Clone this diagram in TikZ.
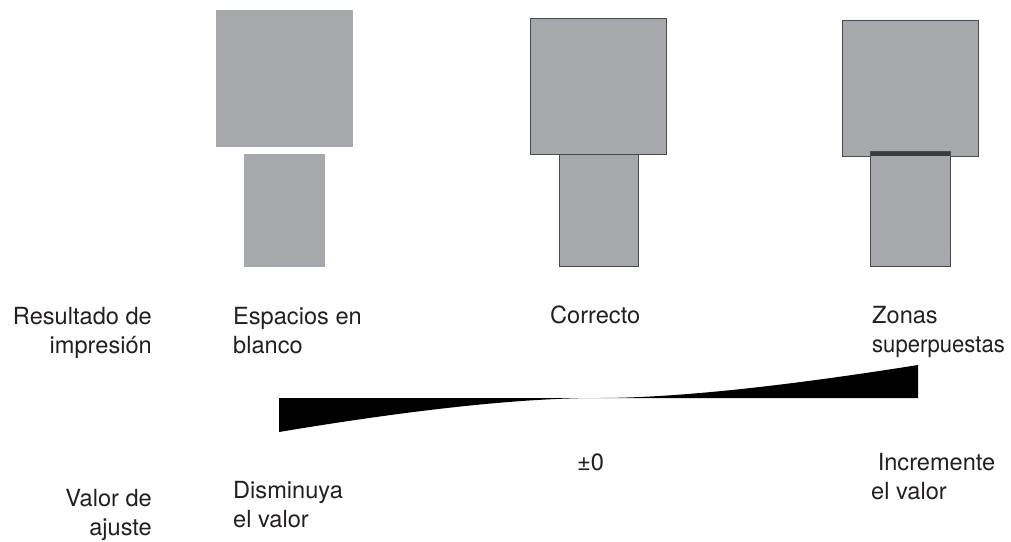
\documentclass[tikz,border=0pt]{standalone}
\usepackage{fontspec}
\usepackage{graphicx}
\setmainfont{TeX Gyre Heros}
\begin{document}
\begin{tikzpicture}[x=1pt,y=-1pt,
  paper/.style={fill=sheet},
  paperedge/.style={fill=sheet,draw=edgegray,line width=1pt},
  lbl/.style={inner sep=0pt,font=\fontsize{23.6}{29}\selectfont,text=txt},
  lblL/.style={lbl,align=left,anchor=base west},
  lblR/.style={lbl,align=right,anchor=base east},
  wedge/.style={fill=black}]
\definecolor{sheet}{HTML}{A7A8AB}
\definecolor{edgegray}{HTML}{4A4A4C}
\definecolor{band}{HTML}{3A3A3C}
\definecolor{txt}{HTML}{231F20}
\useasboundingbox (0,0) rectangle (1011,541);
% left: gaps
\fill[paper] (216,10) rectangle (353,147);
\fill[paper] (244,154) rectangle (325,267);
% middle: correct
\draw[paperedge] (530.7,18) rectangle (666.7,154);
\draw[paperedge] (559,154) rectangle (638.7,266);
% right: overlap
\draw[paperedge] (842.7,20.7) rectangle (978.7,156);
\draw[paperedge] (870.7,151.7) rectangle (950.3,266);
\fill[band] (870.7,151.7) rectangle (950.3,156);
% wedge
\fill[wedge] (279,398) -- (279,432) .. controls (415,409.3) and (521.3,398) .. (598,398) -- cycle;
\fill[wedge] (598,398) .. controls (673.3,398) and (779.3,387) .. (918,365) -- (918,398) -- cycle;
% labels (base anchor = baseline of last line)
\node[lblR] (res) at (152,353) {Resultado de\\impresión};
\node[lblL] (esp) at (233,353) {Espacios en\\blanco};
\node[lblL] (cor) at (550,323) {Correcto};
\node[lblL] (zon) at (872,352) {Zonas\\\scalebox{0.935}[1]{superpuestas}};
\node[lblR] (val) at (152,535) {Valor de\\ajuste};
\node[lblL] (dis) at (233,527) {Disminuya\\el valor};
\node[lblL] (cero) at (577,470) {±0};
\node[lblL] (inc) at (871,499) {\hspace*{.278em}Incremente\\el valor};
\end{tikzpicture}
\end{document}
